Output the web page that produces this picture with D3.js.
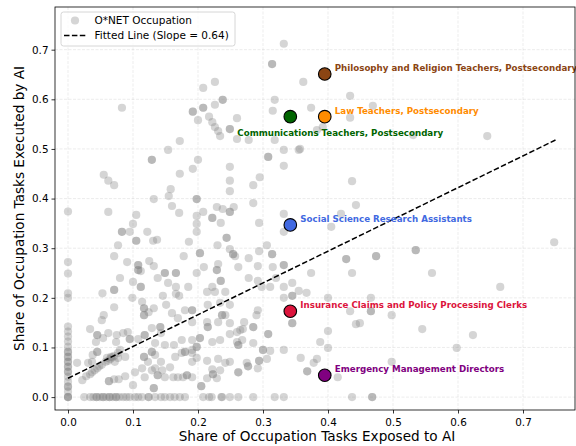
<!DOCTYPE html>
<html>
<head>
<meta charset="utf-8">
<script src="https://cdn.jsdelivr.net/npm/d3@7/dist/d3.min.js"></script>
<style>
  body { margin: 0; background: #fff; }
  svg { font-family: "DejaVu Sans", sans-serif; }
</style>
</head>
<body>
<svg id="chart" width="576" height="446"></svg>
<script>
// O*NET occupations: [share of tasks exposed, share of tasks executed]
var occupations = [
  // x = 0 column
  [0,0],[0,0],[0,0],[0,0.011],[0,0.021],[0,0.021],[0,0.031],[0,0.041],[0,0.051],[0,0.051],
  [0,0.061],[0,0.061],[0,0.071],[0,0.071],[0,0.081],[0,0.081],[0,0.091],[0,0.091],[0,0.101],
  [0,0.112],[0,0.122],[0,0.132],[0,0.142],[0,0.2],[0,0.209],[0,0.249],[0,0.272],[0,0.374],
  // y = 0 row
  [0.025,0],[0.034,0],[0.039,0],[0.044,0],[0.044,0],[0.049,0],[0.054,0],[0.054,0],[0.059,0],
  [0.064,0],[0.064,0],[0.069,0],[0.074,0],[0.074,0],[0.079,0],[0.085,0],[0.09,0],[0.095,0],
  [0.103,0],[0.108,0],[0.114,0],[0.124,0],[0.124,0],[0.134,0],[0.143,0],[0.149,0],[0.157,0],
  [0.164,0],[0.172,0],[0.18,0],[0.208,0],[0.217,0],[0.221,0],[0.236,0],[0.237,0],[0.249,0],
  [0.262,0],[0.285,0],[0.318,0],[0.332,0],[0.437,0],[0.468,0],[0.468,0],
  // upper region
  [0.332,0.712],[0.314,0.671],[0.314,0.671],[0.362,0.635],[0.226,0.635],[0.208,0.623],
  [0.238,0.599],[0.238,0.599],[0.318,0.599],[0.226,0.589],[0.083,0.583],[0.192,0.575],
  [0.192,0.575],[0.208,0.583],[0.208,0.583],[0.315,0.577],[0.374,0.583],[0.2,0.558],
  [0.217,0.565],[0.222,0.554],[0.26,0.562],[0.226,0.544],[0.231,0.536],[0.234,0.526],
  [0.249,0.54],[0.249,0.54],[0.26,0.52],[0.278,0.518],[0.318,0.518],[0.172,0.516],
  [0.154,0.498],[0.332,0.498],[0.355,0.498],[0.129,0.478],[0.129,0.478],[0.2,0.478],
  [0.308,0.484],[0.308,0.484],[0.192,0.46],[0.249,0.464],[0.332,0.466],[0.172,0.45],
  [0.055,0.448],[0.434,0.607],[0.469,0.587],[0.434,0.563],[0.392,0.544],[0.383,0.538],
  [0.645,0.526],[0.531,0.528],[0.357,0.5],
  // right region
  [0.437,0.435],[0.443,0.387],[0.42,0.369],[0.405,0.343],[0.748,0.312],[0.535,0.296],
  [0.535,0.296],[0.474,0.284],[0.474,0.284],[0.428,0.278],[0.428,0.278],[0.437,0.25],
  [0.56,0.25],[0.665,0.222],[0.4,0.2],[0.466,0.2],[0.434,0.173],[0.466,0.173],[0.466,0.173],
  [0.498,0.165],[0.443,0.147],[0.449,0.149],[0.4,0.133],[0.545,0.137],[0.623,0.125],
  [0.4,0.099],[0.598,0.099],[0.498,0.071],[0.415,0.04],
  [0.332,0.369],[0.332,0.333],[0.332,0.266],[0.332,0.266],[0.374,0.25],[0.345,0.23],
  [0.332,0.222],[0.355,0.214],[0.367,0.21],[0.332,0.2],[0.345,0.204],[0.345,0.204],
  [0.345,0.149],[0.345,0.149],[0.332,0.095],[0.388,0.111],[0.358,0.079],[0.378,0.069],
  [0.383,0.077],[0.368,0.052],[0.368,0.052],
  // lower-left cluster
  [0.053,0.209],[0.071,0.216],[0.071,0.216],[0.071,0.181],[0.099,0.2],[0.114,0.192],
  [0.117,0.179],[0.117,0.179],[0.117,0.165],[0.117,0.165],[0.124,0.171],[0.132,0.179],
  [0.146,0.204],[0.151,0.186],[0.166,0.208],[0.171,0.204],[0.16,0.169],[0.169,0.159],
  [0.18,0.175],[0.191,0.175],[0.191,0.175],[0.055,0.165],[0.052,0.155],[0.034,0.137],
  [0.045,0.125],[0.045,0.125],[0.054,0.119],[0.043,0.111],[0.062,0.129],[0.074,0.111],
  [0.075,0.125],[0.085,0.129],[0.092,0.131],[0.095,0.117],[0.095,0.117],[0.108,0.117],
  [0.118,0.125],[0.118,0.125],[0.129,0.139],[0.142,0.141],[0.142,0.141],[0.143,0.129],
  [0.134,0.109],[0.149,0.105],[0.163,0.105],[0.175,0.115],[0.191,0.115],[0.18,0.091],
  [0.18,0.091],[0.191,0.089],
  [0.022,0.034],[0.028,0.042],[0.037,0.05],[0.045,0.058],[0.052,0.065],[0.058,0.071],
  [0.065,0.077],[0.071,0.083],[0.077,0.089],[0.08,0.095],[0.034,0.046],[0.041,0.054],
  [0.048,0.062],[0.062,0.073],[0.068,0.08],
  [0.014,0.069],[0.031,0.069],[0.037,0.071],[0.045,0.091],[0.045,0.091],[0.038,0.085],
  [0.06,0.079],[0.066,0.081],[0.072,0.071],[0.077,0.079],[0.088,0.081],[0.063,0.032],
  [0.063,0.032],[0.071,0.036],[0.078,0.036],[0.088,0.042],[0.1,0.024],[0.103,0.05],
  [0.114,0.058],[0.118,0.04],[0.123,0.071],[0.129,0.091],[0.129,0.091],[0.117,0.081],
  [0.117,0.081],[0.134,0.085],[0.143,0.071],[0.134,0.058],[0.129,0.054],[0.145,0.054],
  [0.138,0.044],[0.138,0.044],[0.149,0.04],[0.157,0.06],[0.162,0.04],[0.169,0.04],
  [0.177,0.04],[0.183,0.044],[0.183,0.044],[0.165,0.081],[0.175,0.089],[0.191,0.071],
  [0.191,0.04],[0.132,0.018],[0.132,0.018],[0.191,0.151],
  // lower-middle cluster
  [0.214,0.212],[0.242,0.212],[0.215,0.186],[0.234,0.19],[0.249,0.186],[0.237,0.165],
  [0.237,0.165],[0.242,0.165],[0.214,0.151],[0.231,0.151],[0.249,0.149],[0.271,0.151],
  [0.29,0.165],[0.292,0.175],[0.285,0.141],[0.285,0.141],[0.215,0.141],[0.215,0.141],
  [0.249,0.127],[0.26,0.131],[0.265,0.135],[0.269,0.137],[0.308,0.127],[0.308,0.127],
  [0.203,0.119],[0.203,0.119],[0.222,0.111],[0.234,0.115],[0.26,0.111],[0.262,0.105],
  [0.262,0.105],[0.268,0.115],[0.285,0.109],[0.191,0.095],[0.198,0.101],[0.198,0.101],
  [0.3,0.095],[0.3,0.095],[0.311,0.093],[0.198,0.079],[0.214,0.073],[0.231,0.077],
  [0.242,0.069],[0.249,0.071],[0.275,0.069],[0.277,0.062],[0.277,0.062],[0.294,0.073],
  [0.294,0.073],[0.292,0.058],[0.306,0.077],[0.222,0.056],[0.223,0.046],[0.223,0.046],
  [0.234,0.054],[0.214,0.038],[0.229,0.038],[0.262,0.05],[0.262,0.05],[0.205,0.022],
  [0.205,0.022],
  // middle band
  [0.062,0.436],[0.071,0.427],[0.158,0.419],[0.155,0.405],[0.132,0.399],[0.16,0.385],
  [0.171,0.371],[0.062,0.373],[0.105,0.367],[0.1,0.349],[0.095,0.333],[0.083,0.333],
  [0.083,0.333],[0.105,0.315],[0.105,0.315],[0.122,0.333],[0.131,0.315],[0.137,0.317],
  [0.077,0.306],[0.186,0.313],[0.071,0.284],[0.091,0.272],[0.108,0.266],[0.108,0.266],
  [0.108,0.256],[0.108,0.256],[0.112,0.254],[0.125,0.274],[0.132,0.264],[0.178,0.284],
  [0.149,0.25],[0.149,0.25],[0.166,0.25],[0.166,0.25],[0.138,0.24],[0.154,0.23],
  [0.08,0.24],[0.1,0.232],[0.112,0.222],[0.112,0.222],[0.166,0.222],[0.185,0.222],
  [0.249,0.436],[0.249,0.415],[0.285,0.427],[0.295,0.443],[0.198,0.399],[0.198,0.399],
  [0.285,0.391],[0.229,0.383],[0.238,0.379],[0.255,0.383],[0.249,0.373],[0.249,0.373],
  [0.208,0.373],[0.198,0.365],[0.198,0.349],[0.198,0.333],[0.222,0.361],[0.222,0.361],
  [0.235,0.351],[0.294,0.351],[0.244,0.321],[0.244,0.321],[0.23,0.306],[0.306,0.306],
  [0.203,0.29],[0.203,0.29],[0.249,0.298],[0.254,0.288],[0.254,0.288],[0.257,0.284],
  [0.294,0.294],[0.314,0.288],[0.314,0.288],[0.278,0.28],[0.262,0.262],[0.231,0.268],
  [0.229,0.256],[0.229,0.256],[0.209,0.262],[0.198,0.25],[0.315,0.262],[0.292,0.264],
  [0.235,0.234],[0.235,0.234],[0.222,0.222],[0.226,0.212],[0.278,0.24],[0.292,0.234],
  [0.298,0.222],[0.311,0.222],[0.32,0.24]
];

// highlighted occupations
var hlNames = [
  "Philosophy and Religion Teachers, Postsecondary",
  "Law Teachers, Postsecondary",
  "Communications Teachers, Postsecondary",
  "Social Science Research Assistants",
  "Insurance Claims and Policy Processing Clerks",
  "Emergency Management Directors"
];
var hlExposed  = [0.395, 0.395, 0.342, 0.342, 0.342, 0.395];
var hlExecuted = [0.651, 0.565, 0.565, 0.347, 0.173, 0.044];
var hlColors   = ["#8B4513", "#FF8C00", "#006400", "#4169E1", "#DC143C", "#800080"];

var fitSlope = 0.64, fitIntercept = 0.038, fitRange = [0, 0.75];
var xTicks = [0, 0.1, 0.2, 0.3, 0.4, 0.5, 0.6, 0.7];
var yTicks = [0, 0.1, 0.2, 0.3, 0.4, 0.5, 0.6, 0.7];

var svg = d3.select("#chart");
var margin = { top: 7, right: 1, bottom: 36, left: 55 };
var W = 576, H = 446;
var iw = W - margin.left - margin.right, ih = H - margin.top - margin.bottom;

var x = d3.scaleLinear().domain([-0.02, 0.78]).range([0, iw]);
var y = d3.scaleLinear().domain([-0.026, 0.786]).range([ih, 0]);

var g = svg.append("g").attr("transform", "translate(" + margin.left + "," + margin.top + ")");

// grid
var grid = g.append("g");
grid.selectAll("line.gx").data(xTicks).enter().append("line")
  .attr("x1", function(d) { return x(d); }).attr("x2", function(d) { return x(d); })
  .attr("y1", 0).attr("y2", ih);
grid.selectAll("line.gy").data(yTicks).enter().append("line")
  .attr("y1", function(d) { return y(d); }).attr("y2", function(d) { return y(d); })
  .attr("x1", 0).attr("x2", iw);
grid.selectAll("line")
  .attr("stroke", "#b0b0b0").attr("stroke-opacity", 0.3)
  .attr("stroke-width", 0.8).attr("stroke-dasharray", "3,1.5");

// scatter
g.append("g").selectAll("circle").data(occupations).enter().append("circle")
  .attr("cx", function(d) { return x(d[0]); })
  .attr("cy", function(d) { return y(d[1]); })
  .attr("r", 4.1)
  .attr("fill", "#808080")
  .attr("fill-opacity", 0.33);

// fitted line
g.append("line")
  .attr("x1", x(fitRange[0])).attr("y1", y(fitIntercept + fitSlope * fitRange[0]))
  .attr("x2", x(fitRange[1])).attr("y2", y(fitIntercept + fitSlope * fitRange[1]))
  .attr("stroke", "#000").attr("stroke-width", 1.5).attr("stroke-dasharray", "5.5,2.4");

// highlights
var hl = d3.range(hlNames.length);
g.append("g").selectAll("circle").data(hl).enter().append("circle")
  .attr("cx", function(i) { return x(hlExposed[i]); })
  .attr("cy", function(i) { return y(hlExecuted[i]); })
  .attr("r", 6.3)
  .attr("fill", function(i) { return hlColors[i]; })
  .attr("stroke", "#000").attr("stroke-width", 1.1);

g.append("g").selectAll("text").data(hl).enter().append("text")
  .attr("x", function(i) { return x(hlExposed[i]) + (i == 2 ? -53 : 10); })
  .attr("y", function(i) { return y(hlExecuted[i]) + (i == 2 ? 19 : -3); })
  .attr("fill", function(i) { return hlColors[i]; })
  .attr("font-size", "8.7px").attr("font-weight", "bold")
  .text(function(i) { return hlNames[i]; });

// axes
var xAxis = g.append("g").attr("transform", "translate(0," + ih + ")")
  .call(d3.axisBottom(x).tickValues(xTicks).tickFormat(d3.format(".1f")).tickSizeOuter(0).tickSize(3.5));
var yAxis = g.append("g")
  .call(d3.axisLeft(y).tickValues(yTicks).tickFormat(d3.format(".1f")).tickSizeOuter(0).tickSize(3.5));
[xAxis, yAxis].forEach(function(a) {
  a.select(".domain").remove();
  a.selectAll("text").attr("font-size", "10.4px").attr("fill", "#000")
    .attr("font-family", "DejaVu Sans, sans-serif");
  a.selectAll("line").attr("stroke", "#000").attr("stroke-width", 0.8);
});
xAxis.selectAll("text").attr("dy", "0.95em");

// frame
g.append("rect").attr("width", iw).attr("height", ih)
  .attr("fill", "none").attr("stroke", "#000").attr("stroke-width", 0.8);

// axis labels
svg.append("text").attr("x", 317).attr("y", 441)
  .attr("text-anchor", "middle").attr("font-size", "13.6px")
  .text("Share of Occupation Tasks Exposed to AI");
svg.append("text").attr("transform", "translate(24," + (margin.top + ih / 2) + ") rotate(-90)")
  .attr("text-anchor", "middle").attr("font-size", "13.6px")
  .text("Share of Occupation Tasks Executed by AI");

// legend
var leg = svg.append("g").attr("transform", "translate(61,12)");
leg.append("rect").attr("width", 174).attr("height", 34).attr("rx", 2.5)
  .attr("fill", "#fff").attr("fill-opacity", 0.8)
  .attr("stroke", "#cccccc").attr("stroke-width", 0.8);
leg.append("circle").attr("cx", 14).attr("cy", 8.5).attr("r", 4.1)
  .attr("fill", "#808080").attr("fill-opacity", 0.33);
leg.append("line").attr("x1", 3).attr("x2", 25).attr("y1", 23.5).attr("y2", 23.5)
  .attr("stroke", "#000").attr("stroke-width", 1.5).attr("stroke-dasharray", "5.5,2.4");
leg.append("text").attr("x", 33.5).attr("y", 12.3).attr("font-size", "10.5px").text("O*NET Occupation");
leg.append("text").attr("x", 33.5).attr("y", 27.3).attr("font-size", "10.5px").text("Fitted Line (Slope = 0.64)");
</script>
</body>
</html>
